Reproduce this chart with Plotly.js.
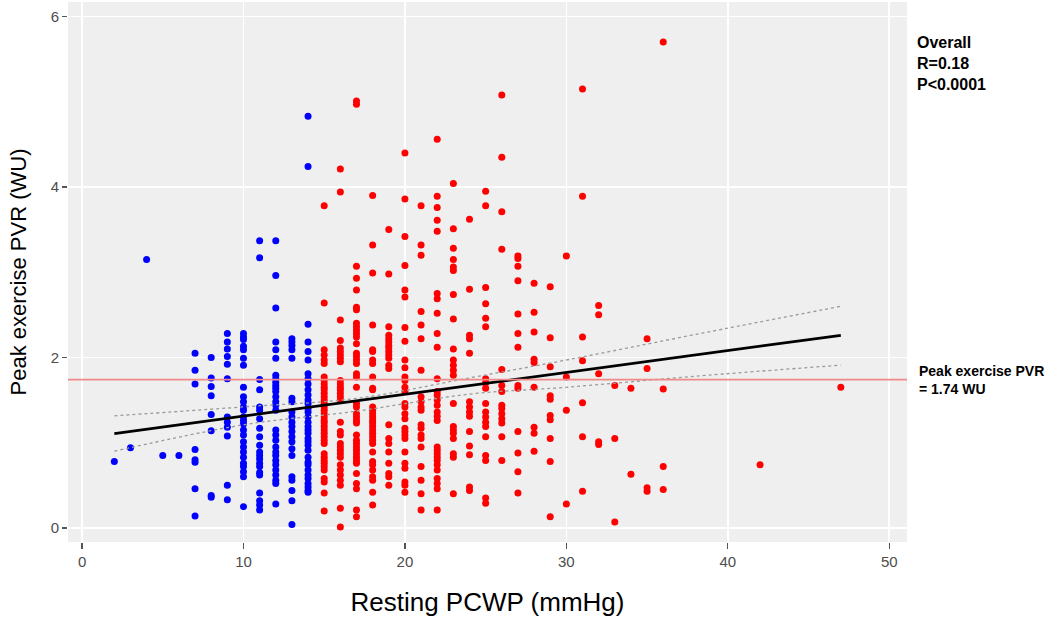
<!DOCTYPE html>
<html>
<head>
<meta charset="utf-8">
<script src="https://cdn.plot.ly/plotly-3.0.1.min.js"></script>
<style>html,body{margin:0;padding:0;background:#fff;}#chart{width:1050px;height:621px;}</style>
</head>
<body>
<div id="chart"></div>
<script>
// Resting PCWP columns (mmHg) and peak exercise PVR values (WU)
const bluePCWP = [2, 3, 4, 5, 6, 7, 8, 9, 10, 11, 12, 13, 14];
const bluePVR = [
  [0.78],
  [0.94],
  [3.15],
  [0.85],
  [0.85],
  [2.05, 1.85, 1.69, 0.92, 0.80, 0.77, 0.46, 0.14],
  [2.00, 1.76, 1.66, 1.55, 1.33, 1.14, 0.38, 0.36],
  [2.28, 2.18, 2.10, 2.01, 1.92, 1.75, 1.30, 1.24, 1.18, 1.08, 0.50, 0.33],
  [2.28, 2.24, 2.21, 2.13, 2.09, 1.99, 1.91, 1.65, 1.54, 1.48, 1.42, 1.38, 1.30, 1.26, 1.22, 1.15, 1.09, 1.01, 0.95, 0.89, 0.83, 0.76, 0.72, 0.66, 0.60, 0.25],
  [3.37, 3.17, 1.74, 1.62, 1.42, 1.38, 1.28, 1.17, 1.07, 0.97, 0.89, 0.85, 0.81, 0.76, 0.72, 0.65, 0.62, 0.41, 0.32, 0.27, 0.21],
  [3.37, 2.96, 2.58, 2.18, 2.09, 1.99, 1.79, 1.75, 1.71, 1.67, 1.64, 1.60, 1.54, 1.48, 1.44, 1.38, 1.15, 1.09, 1.03, 0.95, 0.89, 0.85, 0.79, 0.74, 0.68, 0.62, 0.56, 0.52, 0.28],
  [2.22, 2.18, 2.14, 2.09, 1.99, 1.52, 1.48, 1.36, 1.30, 1.24, 1.19, 1.13, 1.07, 1.01, 0.93, 0.85, 0.60, 0.56, 0.44, 0.32, 0.04],
  [4.83, 4.24, 2.39, 2.18, 2.07, 1.97, 1.81, 1.75, 1.69, 1.62, 1.56, 1.50, 1.46, 1.40, 1.36, 1.30, 1.24, 1.19, 1.15, 1.11, 1.05, 1.01, 0.97, 0.91, 0.83, 0.77, 0.74, 0.68, 0.62, 0.58, 0.52, 0.48, 0.44, 0.42]
];
const redPCWP = [15, 16, 17, 18, 19, 20, 21, 22, 23, 24, 25, 26, 27, 28, 29, 30, 31, 32, 33, 34, 35, 36, 42, 47];
const redPVR = [
  [3.78, 2.64, 2.09, 2.03, 1.97, 1.93, 1.77, 1.73, 1.69, 1.65, 1.62, 1.58, 1.54, 1.50, 1.46, 1.42, 1.38, 1.34, 1.30, 1.26, 1.23, 1.19, 1.15, 1.11, 1.07, 1.03, 0.99, 0.87, 0.83, 0.79, 0.76, 0.72, 0.68, 0.58, 0.54, 0.41, 0.20],
  [4.21, 3.94, 2.44, 2.20, 2.11, 2.07, 2.03, 1.99, 1.95, 1.73, 1.69, 1.65, 1.62, 1.58, 1.54, 1.50, 1.24, 1.13, 1.09, 0.99, 0.95, 0.91, 0.87, 0.83, 0.74, 0.68, 0.62, 0.56, 0.50, 0.23, 0.01],
  [5.01, 4.97, 3.07, 2.93, 2.79, 2.59, 2.56, 2.40, 2.36, 2.32, 2.28, 2.24, 2.16, 2.05, 2.01, 1.97, 1.93, 1.81, 1.77, 1.65, 1.46, 1.42, 1.34, 1.30, 1.26, 1.23, 1.09, 1.03, 0.99, 0.95, 0.91, 0.87, 0.83, 0.79, 0.76, 0.64, 0.52, 0.46, 0.21, 0.13],
  [3.90, 3.32, 2.99, 2.38, 2.09, 2.07, 1.97, 1.93, 1.77, 1.64, 1.62, 1.42, 1.38, 1.34, 1.30, 1.26, 1.23, 1.19, 1.15, 1.11, 1.07, 1.03, 0.99, 0.89, 0.78, 0.74, 0.68, 0.60, 0.56, 0.42, 0.27],
  [3.50, 2.98, 2.36, 2.26, 2.22, 2.18, 2.14, 2.11, 2.07, 2.03, 1.99, 1.91, 1.87, 1.21, 1.05, 0.99, 0.89, 0.76, 0.64, 0.60, 0.50],
  [4.40, 3.86, 3.42, 3.08, 2.79, 2.71, 2.35, 2.19, 1.97, 1.88, 1.77, 1.73, 1.65, 1.60, 1.46, 1.42, 1.34, 1.28, 1.17, 1.13, 1.09, 1.05, 0.89, 0.76, 0.70, 0.54, 0.50, 0.42],
  [3.78, 3.32, 3.20, 2.54, 2.38, 2.22, 1.85, 1.54, 1.48, 1.42, 1.38, 1.21, 1.17, 1.09, 1.05, 0.95, 0.72, 0.56, 0.40, 0.21],
  [4.56, 3.89, 3.76, 3.61, 3.48, 2.75, 2.69, 2.52, 2.28, 2.12, 1.75, 1.60, 1.56, 1.50, 1.44, 1.36, 1.31, 1.26, 0.95, 0.91, 0.87, 0.83, 0.79, 0.74, 0.68, 0.58, 0.52, 0.46, 0.21],
  [4.04, 3.51, 3.28, 3.15, 3.06, 3.02, 2.74, 2.45, 2.10, 1.97, 1.91, 1.85, 1.79, 1.46, 1.19, 1.15, 1.11, 1.05, 0.87, 0.83, 0.40],
  [3.62, 2.80, 2.26, 2.22, 2.05, 1.48, 1.42, 1.36, 1.31, 1.13, 0.96, 0.86, 0.48, 0.44],
  [3.95, 3.78, 2.82, 2.63, 2.46, 2.36, 1.75, 1.70, 1.64, 1.46, 1.36, 1.30, 1.24, 1.19, 1.07, 0.85, 0.79, 0.35, 0.29],
  [5.08, 4.35, 3.71, 3.27, 1.86, 1.67, 1.60, 1.44, 1.40, 1.34, 1.28, 1.23, 1.07, 0.79],
  [3.19, 3.16, 3.07, 2.90, 2.51, 2.28, 2.12, 1.67, 1.64, 1.13, 0.88, 0.66, 0.41],
  [2.87, 2.53, 2.30, 1.98, 1.94, 1.65, 1.18, 1.11, 0.90],
  [2.83, 2.23, 1.89, 1.55, 1.51, 1.32, 1.27, 1.05, 0.78, 0.13],
  [3.19, 1.77, 1.38, 0.28],
  [5.15, 3.89, 2.24, 1.96, 1.47, 1.07, 0.43],
  [2.61, 2.50, 1.81, 1.01, 0.98],
  [1.67, 1.05, 0.07],
  [1.64, 0.63],
  [2.22, 1.87, 0.47, 0.43],
  [5.70, 1.63, 0.72, 0.45],
  [0.74],
  [1.65]
];
// Fitted line and confidence band
const fitX = [2, 47];
const fitY = [1.107, 2.26];
const bandX = [2, 10, 17, 24, 30, 38, 47];
const bandUpper = [1.315, 1.42, 1.52, 1.76, 1.97, 2.27, 2.60];
const bandLower = [0.90, 1.21, 1.37, 1.57, 1.65, 1.78, 1.91];
const thresholdPVR = 1.74;
const xTicks = [0, 10, 20, 30, 40, 50];
const yTicks = [0, 2, 4, 6];

function flatten(cols, vals) {
  const xs = [], ys = [];
  cols.forEach((c, i) => vals[i].forEach(v => { xs.push(c); ys.push(v); }));
  return {x: xs, y: ys};
}
const blue = flatten(bluePCWP, bluePVR);
const red = flatten(redPCWP, redPVR);

const FONT = 'Liberation Sans, Arial, Helvetica, sans-serif';
const traces = [
  {x: blue.x, y: blue.y, type: 'scatter', mode: 'markers', marker: {color: '#0000ff', size: 7}, hoverinfo: 'skip'},
  {x: red.x, y: red.y, type: 'scatter', mode: 'markers', marker: {color: '#ff0000', size: 7}, hoverinfo: 'skip'},
  {x: bandX, y: bandUpper, type: 'scatter', mode: 'lines', line: {color: '#9a9a9a', width: 1.3, dash: 'dot', shape: 'spline'}, hoverinfo: 'skip'},
  {x: bandX, y: bandLower, type: 'scatter', mode: 'lines', line: {color: '#9a9a9a', width: 1.3, dash: 'dot', shape: 'spline'}, hoverinfo: 'skip'},
  {x: fitX, y: fitY, type: 'scatter', mode: 'lines', line: {color: '#000000', width: 2.8}, hoverinfo: 'skip'}
];

const layout = {
  width: 1050, height: 621,
  margin: {l: 68, r: 143, t: 2, b: 79},
  paper_bgcolor: '#ffffff',
  plot_bgcolor: '#efefef',
  showlegend: false,
  font: {family: FONT, color: '#000'},
  xaxis: {
    range: [-0.87, 51.1], tickvals: xTicks, ticktext: xTicks.map(String),
    showgrid: true, gridcolor: '#ffffff', gridwidth: 1.6, zeroline: false, showline: false,
    ticks: 'outside', ticklen: 6, tickwidth: 1.2, tickcolor: '#555555',
    tickfont: {family: FONT, size: 15, color: '#4d4d4d'},
    title: {text: 'Resting PCWP (mmHg)', font: {family: FONT, size: 26, color: '#000'}, standoff: 23}
  },
  yaxis: {
    range: [-0.165, 6.17], tickvals: yTicks, ticktext: yTicks.map(String),
    showgrid: true, gridcolor: '#ffffff', gridwidth: 1.6, zeroline: false, showline: false,
    ticks: 'outside', ticklen: 5, tickwidth: 1.2, tickcolor: '#555555',
    tickfont: {family: FONT, size: 15, color: '#4d4d4d'},
    title: {text: 'Peak exercise PVR (WU)', font: {family: FONT, size: 22, color: '#000'}, standoff: 17}
  },
  shapes: [
    {type: 'line', xref: 'paper', x0: 0, x1: 1, yref: 'y', y0: thresholdPVR, y1: thresholdPVR,
     line: {color: '#f08a8a', width: 1.6}, layer: 'above'}
  ],
  annotations: [
    {xref: 'paper', yref: 'paper', x: 1.0095, y: 0.945, xanchor: 'left', yanchor: 'top', align: 'left', showarrow: false,
     text: '<b>Overall<br>R=0.18<br>P<0.0001</b>', font: {family: FONT, size: 16, color: '#000'}},
    {xref: 'paper', yref: 'y', x: 1.012, y: thresholdPVR, xanchor: 'left', yanchor: 'middle', align: 'left', showarrow: false,
     text: '<b>Peak exercise PVR<br>= 1.74 WU</b>', font: {family: FONT, size: 14, color: '#000'}}
  ]
};

Plotly.newPlot('chart', traces, layout, {staticPlot: true, displayModeBar: false});
</script>
</body>
</html>
